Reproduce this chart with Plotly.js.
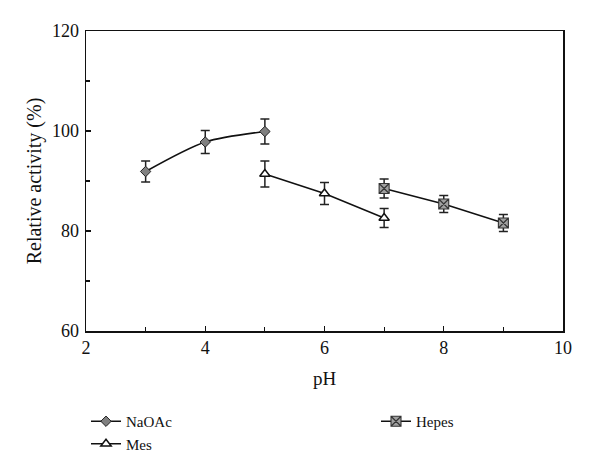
<!DOCTYPE html>
<html>
<head>
<meta charset="utf-8">
<script src="https://cdn.plot.ly/plotly-3.0.1.min.js"></script>
<style>html,body{margin:0;padding:0;background:#fff;}#chart{width:600px;height:473px;}</style>
</head>
<body>
<div id="chart"></div>
<script>
const naoacPH = [3, 4, 5];
const naoacAct = [91.9, 97.8, 99.9];
const naoacErr = [2.1, 2.3, 2.5];

const mesPH = [5, 6, 7];
const mesAct = [91.4, 87.5, 82.6];
const mesErr = [2.6, 2.2, 1.9];

const hepesPH = [7, 8, 9];
const hepesAct = [88.5, 85.4, 81.6];
const hepesErr = [1.9, 1.7, 1.7];

const xTicks = [2, 4, 6, 8, 10];
const yTicks = [60, 80, 100, 120];

const FONT = "Liberation Serif, DejaVu Serif, serif";
const errStyle = {type: 'data', visible: true, color: '#222', thickness: 1.5, width: 4.5};

const traces = [
  {
    x: naoacPH, y: naoacAct, name: 'NaOAc', type: 'scatter', mode: 'lines+markers',
    line: {color: '#111', width: 1.5, shape: 'spline', smoothing: 0.8},
    marker: {symbol: 'diamond', size: 8, color: '#808080', line: {color: '#222', width: 1}},
    error_y: Object.assign({array: naoacErr}, errStyle),
    legend: 'legend'
  },
  {
    x: mesPH, y: mesAct, name: 'Mes', type: 'scatter', mode: 'lines+markers',
    line: {color: '#111', width: 1.5},
    marker: {symbol: 'triangle-up', size: 9, color: '#fff', line: {color: '#111', width: 1.5}},
    error_y: Object.assign({array: mesErr}, errStyle),
    legend: 'legend'
  },
  {
    x: hepesPH, y: hepesAct, name: 'Hepes', type: 'scatter', mode: 'lines+markers',
    line: {color: '#111', width: 1.5},
    marker: {symbol: 'square-x', size: 10, color: '#a0a0a0', line: {color: '#333', width: 1.1}},
    error_y: Object.assign({array: hepesErr}, errStyle),
    legend: 'legend2'
  }
];

const layout = {
  width: 600, height: 473,
  margin: {l: 86, r: 37, t: 31, b: 142, autoexpand: false},
  paper_bgcolor: '#fff', plot_bgcolor: '#fff',
  font: {family: FONT, color: '#111', size: 18},
  showlegend: true,
  xaxis: {
    range: [2, 10], tickvals: xTicks, ticktext: xTicks.map(String),
    ticks: 'inside', ticklen: 5, tickwidth: 1.2, tickcolor: '#111',
    minor: {dtick: 1, tick0: 0, ticks: 'inside', ticklen: 4, tickwidth: 1.2, tickcolor: '#111'},
    showline: true, linecolor: '#111', linewidth: 1.5, mirror: true,
    showgrid: false, zeroline: false,
    tickfont: {family: FONT, size: 18, color: '#111'},
    title: {text: 'pH', font: {family: FONT, size: 19, color: '#111'}, standoff: 14}
  },
  yaxis: {
    range: [60, 120], tickvals: yTicks, ticktext: yTicks.map(String),
    ticks: 'inside', ticklen: 5, tickwidth: 1.2, tickcolor: '#111',
    minor: {dtick: 10, tick0: 0, ticks: 'inside', ticklen: 4, tickwidth: 1.2, tickcolor: '#111'},
    showline: true, linecolor: '#111', linewidth: 1.5, mirror: true,
    showgrid: false, zeroline: false,
    ticklabelstandoff: 2,
    tickfont: {family: FONT, size: 18, color: '#111'},
    title: {text: 'Relative activity (%)', font: {family: FONT, size: 20, color: '#111'}, standoff: 5}
  },
  legend: {
    x: (86 - 86) / 477, y: (331 - 405) / 300, xref: 'paper', yref: 'paper',
    xanchor: 'left', yanchor: 'top',
    orientation: 'v', font: {family: FONT, size: 15, color: '#111'},
    bgcolor: 'rgba(0,0,0,0)', tracegroupgap: 4
  },
  legend2: {
    x: (376 - 86) / 477, y: (331 - 405) / 300, xref: 'paper', yref: 'paper',
    xanchor: 'left', yanchor: 'top',
    orientation: 'v', font: {family: FONT, size: 15, color: '#111'},
    bgcolor: 'rgba(0,0,0,0)'
  }
};

Plotly.newPlot('chart', traces, layout, {displayModeBar: false, staticPlot: true});
</script>
</body>
</html>
